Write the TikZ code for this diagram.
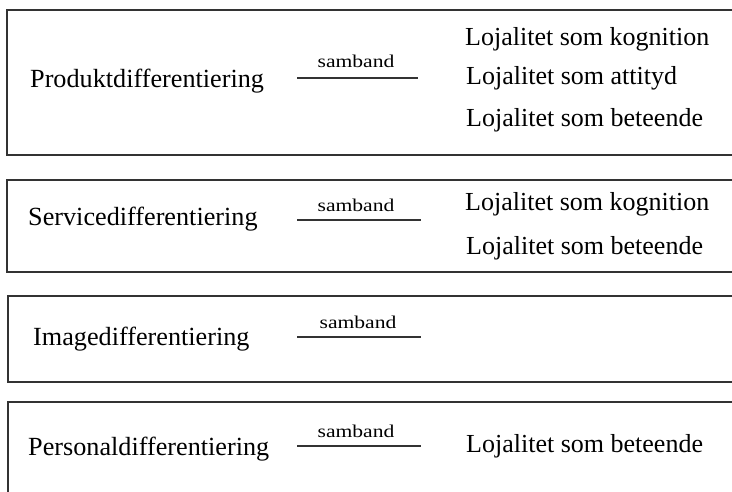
\documentclass[tikz,border=0pt]{standalone}
\usepackage{fontspec}
\setmainfont{Liberation Serif}
\definecolor{framegray}{HTML}{333333}
\tikzset{
  panel/.style={draw=framegray, line width=2.4pt},
  maintext/.style={anchor=base west, inner sep=0pt, font=\fontsize{26.2}{28}\selectfont},
  loyal/.style={anchor=base west, inner sep=0pt, font=\fontsize{26}{28}\selectfont},
  linklabel/.style={anchor=base, inner sep=0pt, xscale=1.2, font=\fontsize{18}{20}\selectfont},
  linkline/.style={draw=framegray, line width=2.4pt},
}
\begin{document}
\begin{tikzpicture}[x=1pt,y=-1pt]
  \useasboundingbox (0,0) rectangle (732,491);
  \clip (0,0) rectangle (732,491);
  \fill[white] (0,0) rectangle (732,491);

  % four panels, running off the right edge
  \draw[panel] (7,10) rectangle (745,155);
  \draw[panel] (7,180) rectangle (745,272);
  \draw[panel] (8,296) rectangle (745,382);
  \draw[panel] (8,402) rectangle (745,505);

  % panel 1
  \node[maintext] (prod) at (30,87) {Produktdifferentiering};
  \node[linklabel] (s1) at (356,67) {samband};
  \coordinate (s1a) at (297,78);
  \coordinate (s1b) at (418,78);
  \draw[linkline] (s1a) -- (s1b);
  \node[loyal] (p1) at (465,45) {Lojalitet som kognition};
  \node[loyal] (p2) at (466,84) {Lojalitet som attityd};
  \node[loyal] (p3) at (466,126) {Lojalitet som beteende};

  % panel 2
  \node[maintext] (serv) at (28,225) {Servicedifferentiering};
  \node[linklabel] (s2) at (356,211) {samband};
  \coordinate (s2a) at (297,220);
  \coordinate (s2b) at (421,220);
  \draw[linkline] (s2a) -- (s2b);
  \node[loyal] (q1) at (465,210) {Lojalitet som kognition};
  \node[loyal] (q2) at (466,254) {Lojalitet som beteende};

  % panel 3
  \node[maintext] (img) at (33,345) {Imagedifferentiering};
  \node[linklabel] (s3) at (358,328) {samband};
  \coordinate (s3a) at (297,337);
  \coordinate (s3b) at (421,337);
  \draw[linkline] (s3a) -- (s3b);

  % panel 4
  \node[maintext] (pers) at (28,455) {Personaldifferentiering};
  \node[linklabel] (s4) at (356,437) {samband};
  \coordinate (s4a) at (297,446);
  \coordinate (s4b) at (421,446);
  \draw[linkline] (s4a) -- (s4b);
  \node[loyal] (r1) at (466,452) {Lojalitet som beteende};
\end{tikzpicture}
\end{document}
